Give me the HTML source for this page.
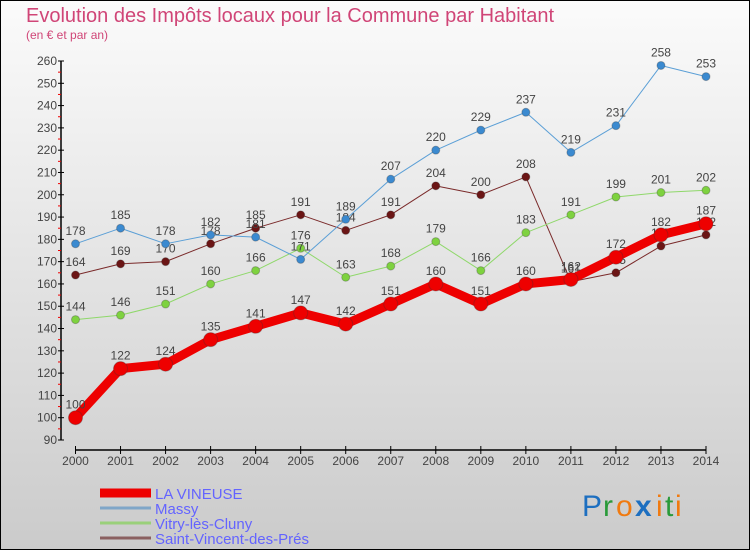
<!DOCTYPE html>
<html><head><meta charset="utf-8"><style>
body{margin:0;}
#wrap{position:relative;width:750px;height:550px;overflow:hidden;}
svg text{font-family:"Liberation Sans",sans-serif;}
</style></head><body>
<div id="wrap">
<svg id="chart" width="750" height="550" xmlns="http://www.w3.org/2000/svg">
<defs><linearGradient id="bg" x1="0" y1="0" x2="0" y2="1"><stop offset="0" stop-color="#fbfbfb"/><stop offset="1" stop-color="#cbcbcb"/></linearGradient></defs>
<rect x="0.5" y="0.5" width="749" height="549" fill="url(#bg)" stroke="#000"/>
<text x="26" y="22" font-size="20" fill="#d04577">Evolution des Impôts locaux pour la Commune par Habitant</text>
<text x="26" y="39" font-size="12" fill="#d04577">(en € et par an)</text>
<g id="axes"></g>
<g id="series"></g>
<g id="legend"></g>
<g font-size="30" font-family="Liberation Sans">
<text x="582" y="516" fill="#1d6fc0">P</text><text x="603" y="516" fill="#2a9a3a">r</text><text x="616" y="516" fill="#f07a10">o</text><text x="635" y="516" fill="#1d6fc0" font-weight="bold">x</text><text x="656" y="516" fill="#f07a10">i</text><text x="665" y="516" fill="#2a9a3a">t</text><text x="675" y="516" fill="#f07a10">i</text>
</g>
</svg>
</div>
<script>
const years=[2000,2001,2002,2003,2004,2005,2006,2007,2008,2009,2010,2011,2012,2013,2014];
const vineuse=[100,122,124,135,141,147,142,151,160,151,160,162,172,182,187];
const massy=[178,185,178,182,181,171,189,207,220,229,237,219,231,258,253];
const vitry=[144,146,151,160,166,176,163,168,179,166,183,191,199,201,202];
const stvincent=[164,169,170,178,185,191,184,191,204,200,208,161,165,177,182];
const yTicks=[90,100,110,120,130,140,150,160,170,180,190,200,210,220,230,240,250,260];
const NS="http://www.w3.org/2000/svg";
function X(i){return 75.5+i*(706-75.5)/(years.length-1);}
function Y(v){return 440-(v-90)*(440-61)/170;}
function mk(tag,attrs,parent){const e=document.createElementNS(NS,tag);for(const k in attrs)e.setAttribute(k,attrs[k]);parent.appendChild(e);return e;}
const axes=document.getElementById('axes');
let ya=mk('line',{x1:61,y1:Y(260),x2:61,y2:Y(90),stroke:'#000','stroke-width':1.5},axes);


yTicks.forEach(v=>{
  mk('line',{x1:58,y1:Y(v),x2:64,y2:Y(v),stroke:'#000'},axes);
  if(v<260) mk('line',{x1:58,y1:Y(v+5),x2:61,y2:Y(v+5),stroke:'#e00'},axes);
  const t=mk('text',{x:57,y:Y(v)+4,'font-size':12,fill:'#444','text-anchor':'end'},axes);
  t.textContent=v;
  
  
});
let xa=mk('line',{x1:X(0),y1:450,x2:X(years.length-1),y2:450,stroke:'#000','stroke-width':1.5},axes);


years.forEach((y,i)=>{
  mk('line',{x1:X(i),y1:446,x2:X(i),y2:454,stroke:'#000'},axes);
  const t=mk('text',{x:X(i),y:465,'font-size':12,fill:'#444','text-anchor':'middle'},axes);
  t.textContent=y;
  
  
});
const S=document.getElementById('series');
function draw(vals,color,w,r,name,dot){
  const g=mk('g',{},S);
  
  
  mk('polyline',{points:vals.map((v,i)=>X(i)+','+Y(v)).join(' '),fill:'none',stroke:color,'stroke-width':w,'stroke-linejoin':'round'},g);
  vals.forEach((v,i)=>{
    const c=mk('circle',{cx:X(i),cy:Y(v),r:r,fill:dot,stroke:'#333','stroke-opacity':0.3},g);
    
    
    const t=mk('text',{x:X(i),y:Y(v)-9,'font-size':12,fill:'#444','text-anchor':'middle'},g);
    t.textContent=v;
    
    
  });
}
draw(stvincent,'#7a2a2a',1,4,'series-saint-vincent','#6b1515');
draw(vitry,'#8fd86a',1,4,'series-vitry','#7ed23f');
draw(massy,'#5b9fd6',1,4,'series-massy','#3b8ad0');
draw(vineuse,'#ee0000',9,7,'series-la-vineuse','#ee0000');
const L=document.getElementById('legend');
const items=[['LA VINEUSE','#ee0000',9],['Massy','#7fa6c8',3],['Vitry-lès-Cluny','#9ad07a',3],['Saint-Vincent-des-Prés','#8a6060',3]];
items.forEach((it,k)=>{
  const y=493+k*15;
  const g=mk('g',{},L);
  
  
  mk('line',{x1:100,y1:y,x2:151,y2:y,stroke:it[1],'stroke-width':it[2]},g);
  const t=mk('text',{x:155,y:y+6,'font-size':15,fill:'#6464ff'},g);
  t.textContent=it[0];
});
</script>
</body></html>
